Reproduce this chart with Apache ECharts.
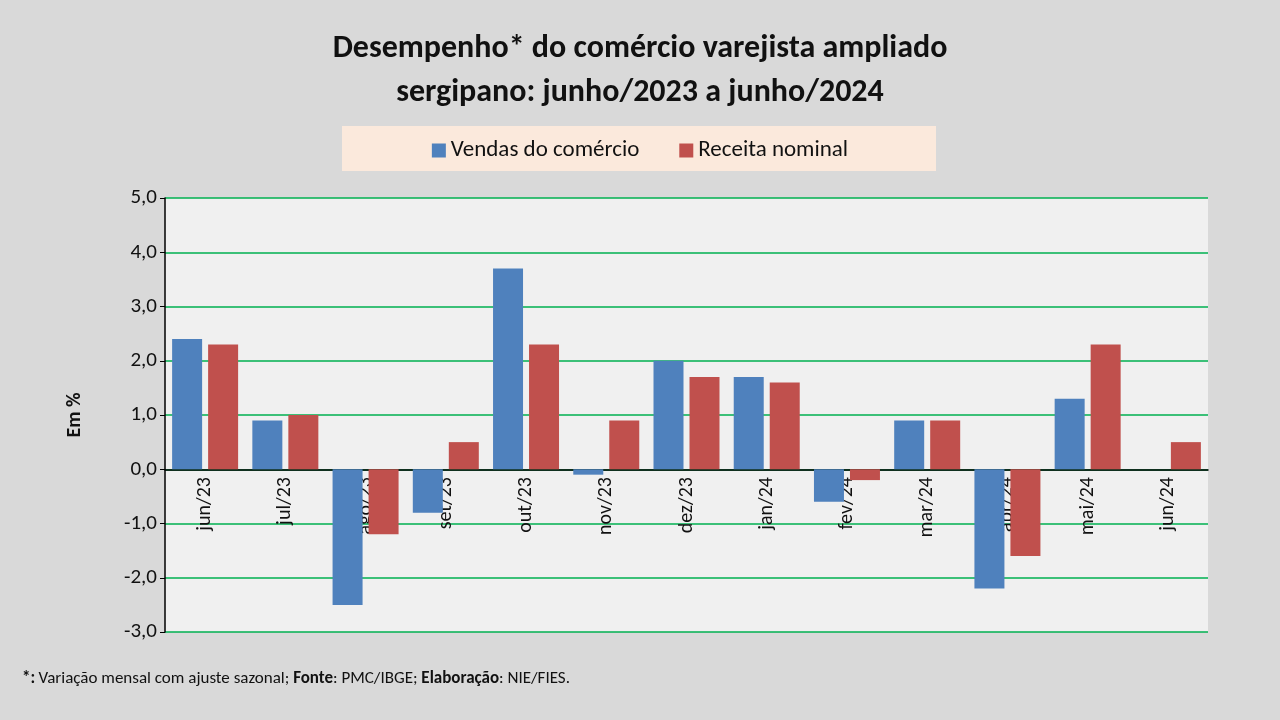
<!DOCTYPE html>
<html><head><meta charset="utf-8">
<script src="https://cdn.jsdelivr.net/npm/echarts@6/dist/echarts.min.js"></script>
<style>html,body{margin:0;padding:0;background:#d9d9d9}#c{width:1280px;height:720px}</style>
</head><body><div id="c"></div>
<script>
const categories=["jun/23","jul/23","ago/23","set/23","out/23","nov/23","dez/23","jan/24","fev/24","mar/24","abr/24","mai/24","jun/24"];
const vendas=[2.4,0.9,-2.5,-0.8,3.7,-0.1,2.0,1.7,-0.6,0.9,-2.2,1.3,0.0];
const receita=[2.3,1.0,-1.2,0.5,2.3,0.9,1.7,1.6,-0.2,0.9,-1.6,2.3,0.5];
const ch=echarts.init(document.getElementById('c'));
const F='Calibri, Carlito, Lato, "Liberation Sans", Arial, sans-serif';
ch.setOption({
 backgroundColor:'#d9d9d9',
 title:{text:'Desempenho* do comércio varejista ampliado\nsergipano: junho/2023 a junho/2024',left:'center',top:22,
  textStyle:{fontSize:32,fontWeight:'bold',color:'#111',fontFamily:F,lineHeight:44}},
 graphic:[
  {type:'rect',shape:{x:342,y:126,width:594,height:45},style:{fill:'#fbe9dc'},z:-1},
  {type:'text',left:22,top:670,style:{rich:{b:{fontWeight:'bold',fontSize:17,fontFamily:F,fill:'#111'},n:{fontSize:17,fontFamily:F,fill:'#111'}},
   text:'{b|*:} {n|Variação mensal com ajuste sazonal; }{b|Fonte}{n|: PMC/IBGE; }{b|Elaboração}{n|: NIE/FIES.}'}}
 ],
 legend:{top:134,left:'center',itemWidth:14,itemHeight:14,itemGap:40,icon:'rect',
  textStyle:{fontSize:23,fontFamily:F,color:'#111'},data:['Vendas do comércio','Receita nominal']},
 grid:{left:165,right:72,top:198,bottom:88,show:true,backgroundColor:'#f0f0f0',borderWidth:0},
 xAxis:{type:'category',data:categories,axisTick:{show:false},
  axisLine:{onZero:true,lineStyle:{color:'#000',width:1.5}},
  axisLabel:{rotate:90,fontSize:20,fontFamily:F,color:'#111',margin:-155}},
 yAxis:{type:'value',min:-3,max:5,interval:1,name:'Em %',nameLocation:'middle',nameGap:80,
  nameTextStyle:{fontSize:20,fontWeight:'bold',fontFamily:F,color:'#111'},
  axisLine:{show:true,lineStyle:{color:'#000',width:1.5}},axisTick:{show:true,length:5,lineStyle:{color:'#000'}},
  axisLabel:{fontSize:21,fontFamily:F,color:'#111',formatter:v=>v.toFixed(1).replace('.',',')},
  splitLine:{lineStyle:{color:'#00b050',width:1.5}}},
 series:[
  {name:'Vendas do comércio',type:'bar',data:vendas,barWidth:30,barGap:'20%',itemStyle:{color:'#4f81bd'}},
  {name:'Receita nominal',type:'bar',data:receita,barWidth:30,itemStyle:{color:'#c0504d'}}
 ]
});
</script></body></html>
